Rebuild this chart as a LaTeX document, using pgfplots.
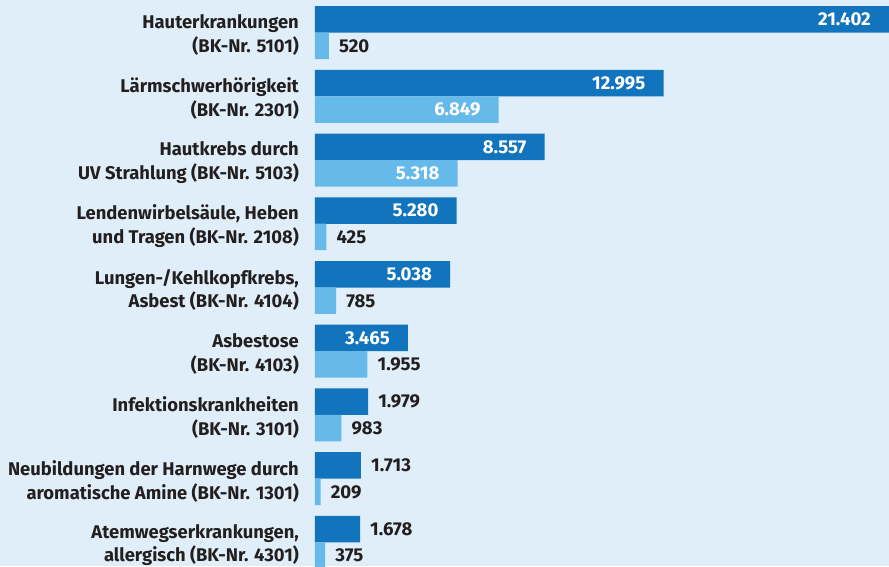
\documentclass[border=0pt]{standalone}
\usepackage{pgfplots}
\pgfplotsset{compat=1.18}
\usepackage{pgfplotstable}
\usepackage{fontspec}
\setmainfont{Fira Sans}
\definecolor{darkbar}{HTML}{1174BD}
\definecolor{lightbar}{HTML}{65BAE9}
\definecolor{bgc}{HTML}{DFEEF9}
\definecolor{txt}{HTML}{231F20}

\pgfplotstableread{
x y label
21402 0 21.402
12995 1 12.995
8557 2 8.557
5280 3 5.280
5038 4 5.038
3465 5 3.465
}\darkin
\pgfplotstableread{
x y label
1979 6 1.979
1713 7 1.713
1678 8 1.678
}\darkout
\pgfplotstableread{
x y label
6849 1 6.849
5318 2 5.318
}\lightin
\pgfplotstableread{
x y label
520 0 520
425 3 425
785 4 785
1955 5 1.955
983 6 983
209 7 209
375 8 375
}\lightout

\begin{document}
\begin{tikzpicture}
\fill[bgc] (0,0) rectangle (889pt,566pt);
\begin{axis}[
  at={(315pt,0pt)}, anchor=south west,
  scale only axis, width=574pt, height=566pt,
  xmin=0, xmax=21402,
  ymin=-0.5098, ymax=8.369,
  y dir=reverse,
  xbar, bar width=0.4157,
  axis line style={draw=none},
  major tick length=0pt,
  xtick=\empty,
  ytick={0,...,8},
  yticklabels={
    {Hauterkrankungen\\(BK-Nr. 5101)},
    {Lärmschwerhörigkeit\\(BK-Nr. 2301)},
    {Hautkrebs durch\\UV Strahlung (BK-Nr. 5103)},
    {Lendenwirbelsäule, Heben\\und Tragen (BK-Nr. 2108)},
    {Lungen-/Kehlkopfkrebs,\\Asbest (BK-Nr. 4104)},
    {Asbestose\\(BK-Nr. 4103)},
    {Infektionskrankheiten\\(BK-Nr. 3101)},
    {Neubildungen der Harnwege durch\\aromatische Amine (BK-Nr. 1301)},
    {Atemwegserkrankungen,\\allergisch (BK-Nr. 4301)}},
  yticklabel style={align=right, anchor=east, inner sep=0pt, xshift=-16pt, yshift=-2.5pt,
    text=txt, font=\fontsize{18.4}{23.6}\selectfont\bfseries},
  point meta=explicit symbolic,
  nodes near coords,
  every node near coord/.append style={font=\fontsize{18.6}{20}\selectfont\bfseries, inner sep=0pt},
]
\addplot[fill=darkbar, draw=none, bar shift=-0.2078,
  nodes near coords style={anchor=east, xshift=-18pt, text=white}]
  table[x=x, y=y, meta=label] {\darkin};
\addplot[fill=darkbar, draw=none, bar shift=-0.2078,
  nodes near coords style={anchor=west, xshift=10pt, text=txt}]
  table[x=x, y=y, meta=label] {\darkout};
\addplot[fill=lightbar, draw=none, bar shift=0.2078,
  nodes near coords style={anchor=east, xshift=-18pt, text=white}]
  table[x=x, y=y, meta=label] {\lightin};
\addplot[fill=lightbar, draw=none, bar shift=0.2078,
  nodes near coords style={anchor=west, xshift=10pt, text=txt}]
  table[x=x, y=y, meta=label] {\lightout};
\end{axis}
\pgfresetboundingbox
\useasboundingbox (0,0) rectangle (889pt,566pt);
\end{tikzpicture}
\end{document}
